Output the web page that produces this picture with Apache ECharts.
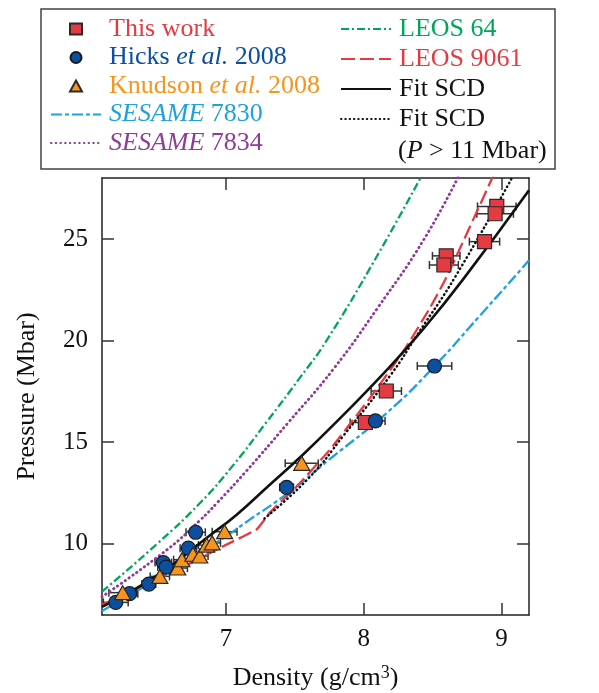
<!DOCTYPE html>
<html>
<head>
<meta charset="utf-8">
<script src="https://cdn.jsdelivr.net/npm/echarts@6/dist/echarts.min.js"></script>
<style>
  html, body { margin: 0; padding: 0; background: #fff; }
  #chart { width: 599px; height: 693px; }
</style>
</head>
<body>
<div id="chart"></div>
<script>
const FONT = '"Liberation Serif", "DejaVu Serif", serif';

// tick labels
const xTicks = [7, 8, 9];
const yTicks = [10, 15, 20, 25];

// measurements: density (g/cm3), pressure (Mbar), density error
const thisWorkX = [8.966, 8.954, 8.877, 8.599, 8.582, 8.164, 8.012];
const thisWorkY = [26.6, 26.24, 24.87, 24.17, 23.72, 17.52, 15.97];
const thisWorkErr = [0.14, 0.133, 0.11, 0.10, 0.105, 0.11, 0.11];

const hicksX = [6.20, 6.30, 6.44, 6.545, 6.565, 6.727, 6.78, 7.44, 8.085, 8.514];
const hicksY = [7.12, 7.55, 8.02, 9.08, 8.86, 9.79, 10.57, 12.78, 16.05, 18.75];
const hicksErr = [0.09, 0.06, 0.05, 0.06, 0.06, 0.06, 0.07, 0.05, 0.07, 0.125];

const knudsonX = [6.25, 6.52, 6.65, 6.68, 6.76, 6.81, 6.86, 6.90, 6.99, 7.55];
const knudsonY = [7.60, 8.40, 8.81, 9.22, 9.49, 9.40, 9.94, 10.05, 10.60, 13.96];
const knudsonErr = [0.10, 0.07, 0.07, 0.06, 0.06, 0.06, 0.06, 0.06, 0.09, 0.12];

// model curves
const sesame7830Rho = [6.1, 6.45, 6.98, 7.17, 7.44, 7.75, 8.16, 8.48, 8.84, 9.2];
const sesame7830P = [6.7, 8.07, 10.28, 11.18, 12.45, 14.15, 16.4, 18.5, 21.2, 23.95];

const sesame7834Rho = [6.1, 6.57, 6.81, 6.94, 7.15, 7.45, 7.78, 8.1, 8.43, 8.69];
const sesame7834P = [7.4, 9.7, 11.15, 12.05, 13.6, 15.95, 18.6, 21.6, 24.9, 28.1];

const leos64Rho = [6.1, 6.5, 6.81, 7.05, 7.29, 7.54, 7.73, 8.1, 8.42];
const leos64P = [7.65, 10.0, 12.0, 13.85, 15.95, 18.2, 20.0, 24.2, 28.1];

const leos9061Rho = [6.1, 6.64, 7.0, 7.22, 7.27, 7.32, 7.51, 7.75, 8.07, 8.3, 8.48, 8.6, 8.71, 8.94];
const leos9061P = [7.0, 8.7, 9.95, 10.7, 11.1, 11.55, 12.8, 14.6, 17.4, 19.6, 21.6, 23.1, 24.7, 28.1];

const fitRho = [6.1, 6.5, 6.88, 7.08, 7.3, 7.56, 7.78, 8.16, 8.43, 8.72, 9.2];
const fitP = [6.9, 8.45, 10.4, 11.45, 12.8, 14.4, 15.85, 18.5, 20.55, 23.0, 27.4];

const fitHighRho = [7.28, 7.61, 7.85, 8.2, 8.39, 8.67, 9.08];
const fitHighP = [11.25, 13.3, 15.3, 18.35, 20.3, 23.2, 28.05];

const zip = (a, b) => a.map((v, i) => [v, b[i]]);
const zip3 = (a, b, c) => a.map((v, i) => [v, b[i], c[i]]);

const errData = [].concat(
  zip3(thisWorkX, thisWorkY, thisWorkErr),
  zip3(hicksX, hicksY, hicksErr),
  zip3(knudsonX, knudsonY, knudsonErr)
);

function renderErrorBar(params, api) {
  const x = api.value(0), y = api.value(1), e = api.value(2);
  const lo = api.coord([x - e, y]);
  const hi = api.coord([x + e, y]);
  const cap = 4;
  const style = { stroke: '#333', lineWidth: 1.5 };
  return {
    type: 'group',
    children: [
      { type: 'line', shape: { x1: lo[0], y1: lo[1], x2: hi[0], y2: hi[1] }, style },
      { type: 'line', shape: { x1: lo[0], y1: lo[1] - cap, x2: lo[0], y2: lo[1] + cap }, style },
      { type: 'line', shape: { x1: hi[0], y1: hi[1] - cap, x2: hi[0], y2: hi[1] + cap }, style }
    ]
  };
}

const RED = '#e43a41';
const BLUE = '#0c4fa0';
const ORANGE = '#f7941d';
const SKY = '#1fa1dd';
const PURPLE = '#8e3c97';
const GREEN = '#00a659';

const legendText = (padLeft) => ({
  fontFamily: FONT,
  fontSize: 26,
  lineHeight: 26,
  padding: [0, 0, 0, padLeft],
  rich: {
    i: { fontFamily: FONT, fontSize: 26, fontStyle: 'italic', lineHeight: 26 }
  }
});

function legendLabel(name) {
  if (name.indexOf('et al.') >= 0) return name.replace('et al.', '{i|et al.}');
  if (name.indexOf('SESAME') === 0) return name.replace('SESAME', '{i|SESAME}');
  if (name === 'Fit SCD (P > 11 Mbar)') return 'Fit SCD';
  return name;
}

const chart = echarts.init(document.getElementById('chart'));

// line series legends: hide the marker that echarts puts on line icons
const lineLegend = {
  orient: 'vertical',
  padding: 0,
  itemWidth: 50,
  itemHeight: 11,
  formatter: legendLabel,
  selectedMode: false,
  itemStyle: { opacity: 0 },
  textStyle: legendText(3)
};

const option = {
  animation: false,
  backgroundColor: '#fff',
  textStyle: { fontFamily: FONT },
  grid: { left: 102, right: 70, top: 178, bottom: 78, outerBoundsMode: 'none' },
  legend: [
    {
      orient: 'vertical',
      left: 69,
      top: 16,
      padding: 0,
      itemWidth: 12,
      itemHeight: 11,
      itemGap: 2.5,
      textStyle: legendText(22),
      formatter: legendLabel,
      selectedMode: false,
      data: [
        { name: 'This work', textStyle: { color: RED } },
        { name: 'Hicks et al. 2008', textStyle: { color: BLUE } },
        { name: 'Knudson et al. 2008', textStyle: { color: ORANGE } }
      ]
    },
    Object.assign({}, lineLegend, {
      left: 50,
      top: 101.5,
      itemGap: 2.5,
      data: [
        { name: 'SESAME 7830', textStyle: { color: SKY } },
        { name: 'SESAME 7834', textStyle: { color: PURPLE } }
      ]
    }),
    Object.assign({}, lineLegend, {
      left: 340,
      top: 16,
      itemGap: 4,
      data: [
        { name: 'LEOS 64', textStyle: { color: GREEN } },
        { name: 'LEOS 9061', textStyle: { color: RED } },
        { name: 'Fit SCD', textStyle: { color: '#111' } },
        { name: 'Fit SCD (P > 11 Mbar)', textStyle: { color: '#111' } }
      ]
    })
  ],
  graphic: [
    {
      type: 'rect',
      shape: { x: 41, y: 9, width: 514, height: 160 },
      style: { fill: 'none', stroke: '#444', lineWidth: 1.5 },
      silent: true
    },
    {
      type: 'text',
      x: 398,
      y: 151,
      silent: true,
      style: {
        text: '({i|P} > 11 Mbar)',
        fill: '#111',
        font: '26px ' + FONT,
        verticalAlign: 'middle',
        rich: {
          i: { fontFamily: FONT, fontSize: 26, fontStyle: 'italic', fill: '#111' }
        }
      }
    }
  ],
  xAxis: [
    {
      type: 'value',
      min: 6.1,
      max: 9.2,
      position: 'bottom',
      name: 'Density (g/cm{s|3})',
      nameLocation: 'middle',
      nameGap: 49,
      nameTextStyle: {
        color: '#111',
        fontFamily: FONT,
        fontSize: 26,
        lineHeight: 28,
        rich: {
          s: { fontFamily: FONT, fontSize: 18, verticalAlign: 'top', lineHeight: 18, color: '#111' }
        }
      },
      axisLine: { show: true, lineStyle: { color: '#222', width: 1.5 } },
      axisTick: { show: true, inside: true, length: 12, customValues: xTicks, lineStyle: { color: '#333', width: 1.5 } },
      axisLabel: { customValues: xTicks, color: '#111', fontFamily: FONT, fontSize: 25, margin: 12 },
      splitLine: { show: false }
    },
    {
      type: 'value',
      min: 6.1,
      max: 9.2,
      position: 'top',
      axisLine: { show: true, lineStyle: { color: '#222', width: 1.5 } },
      axisTick: { show: true, inside: true, length: 12, customValues: xTicks, lineStyle: { color: '#333', width: 1.5 } },
      axisLabel: { show: false },
      splitLine: { show: false }
    }
  ],
  yAxis: [
    {
      type: 'value',
      min: 6.5,
      max: 28,
      position: 'left',
      name: 'Pressure (Mbar)',
      nameLocation: 'middle',
      nameGap: 62,
      nameTextStyle: { color: '#111', fontFamily: FONT, fontSize: 26 },
      axisLine: { show: true, lineStyle: { color: '#222', width: 1.5 } },
      axisTick: { show: true, inside: true, length: 12, customValues: yTicks, lineStyle: { color: '#333', width: 1.5 } },
      axisLabel: { customValues: yTicks, color: '#111', fontFamily: FONT, fontSize: 25, margin: 14 },
      splitLine: { show: false }
    },
    {
      type: 'value',
      min: 6.5,
      max: 28,
      position: 'right',
      axisLine: { show: true, lineStyle: { color: '#222', width: 1.5 } },
      axisTick: { show: true, inside: true, length: 12, customValues: yTicks, lineStyle: { color: '#333', width: 1.5 } },
      axisLabel: { show: false },
      splitLine: { show: false }
    }
  ],
  series: [
    {
      name: 'SESAME 7830', type: 'line', symbol: 'none', smooth: 0.5,
      data: zip(sesame7830Rho, sesame7830P),
      lineStyle: { color: SKY, width: 2.3, type: [11, 3, 4, 3] }, itemStyle: { color: SKY }
    },
    {
      name: 'SESAME 7834', type: 'line', symbol: 'none', smooth: 0.5,
      data: zip(sesame7834Rho, sesame7834P),
      lineStyle: { color: PURPLE, width: 2.8, type: [0.5, 4.2], cap: 'round' }, itemStyle: { color: PURPLE }
    },
    {
      name: 'LEOS 64', type: 'line', symbol: 'none', smooth: 0.5,
      data: zip(leos64Rho, leos64P),
      lineStyle: { color: GREEN, width: 2.3, type: [8, 3, 2, 3] }, itemStyle: { color: GREEN }
    },
    {
      name: 'LEOS 9061', type: 'line', symbol: 'none', smooth: 0.15,
      data: zip(leos9061Rho, leos9061P),
      lineStyle: { color: RED, width: 2.3, type: [14, 5] }, itemStyle: { color: RED }
    },
    {
      name: 'Fit SCD', type: 'line', symbol: 'none', smooth: 0.5,
      data: zip(fitRho, fitP),
      lineStyle: { color: '#111', width: 2.6, type: 'solid' }, itemStyle: { color: '#111' }
    },
    {
      name: 'Fit SCD (P > 11 Mbar)', type: 'line', symbol: 'none', smooth: 0.5,
      data: zip(fitHighRho, fitHighP),
      lineStyle: { color: '#111', width: 2.5, type: [0.5, 3.8], cap: 'round' }, itemStyle: { color: '#111' }
    },
    {
      name: 'errors', type: 'custom', renderItem: renderErrorBar,
      encode: { x: 0, y: 1 }, data: errData, z: 3, silent: true
    },
    {
      name: 'This work', type: 'scatter', symbol: 'rect', symbolSize: 14, z: 4,
      data: zip(thisWorkX, thisWorkY),
      itemStyle: { color: RED, borderColor: '#2a2a2a', borderWidth: 1.2, opacity: 1 }
    },
    {
      name: 'Hicks et al. 2008', type: 'scatter', symbol: 'circle', symbolSize: 14, z: 5,
      data: zip(hicksX, hicksY),
      itemStyle: { color: BLUE, borderColor: '#1a1a1a', borderWidth: 1.2, opacity: 1 }
    },
    {
      name: 'Knudson et al. 2008', type: 'scatter', symbol: 'triangle', symbolSize: [16, 14], z: 6,
      data: zip(knudsonX, knudsonY),
      itemStyle: { color: ORANGE, borderColor: '#2a2a2a', borderWidth: 1.2, opacity: 1 }
    }
  ]
};

chart.setOption(option);
</script>
</body>
</html>
